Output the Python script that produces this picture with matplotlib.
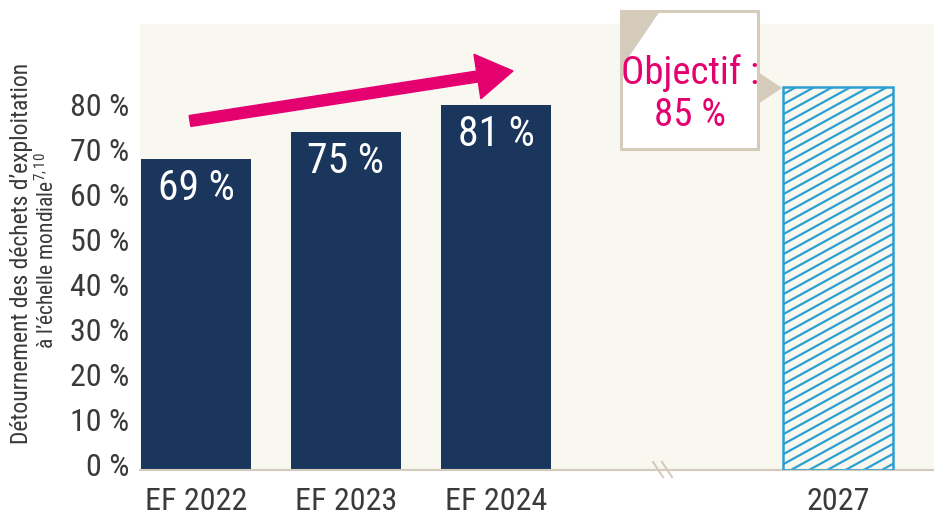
import numpy as np
import matplotlib.pyplot as plt
import matplotlib.patches as mpatches
from matplotlib.transforms import Affine2D, ScaledTranslation

plt.rcParams['font.family'] = ['Roboto Condensed', 'DejaVu Sans']
plt.rcParams['mathtext.fontset'] = 'custom'
plt.rcParams['mathtext.rm'] = 'Roboto Condensed'
plt.rcParams['mathtext.it'] = 'Roboto Condensed'

categories = ['EF 2022', 'EF 2023', 'EF 2024', '2027']
values = [69, 75, 81, 85]
labels = ['69 %', '75 %', '81 %', '']
target_text = 'Objectif :\n85 %'
yticks = [0, 10, 20, 30, 40, 50, 60, 70, 80]

navy = '#1b365d'
bg = '#f8f7f0'
hatch_blue = '#2b9fd4'
magenta = '#e4006f'
tan = '#d4cbbb'
grey = '#3a3a3a'

W, H = 934, 517
fig = plt.figure(figsize=(W / 100, H / 100), dpi=100)
# pixel coords with top-left origin
px = Affine2D().scale(1 / W, -1 / H).translate(0, 1) + fig.transFigure

left, right, top, bottom = 140, 934, 24, 470
ax = fig.add_axes([left / W, 1 - bottom / H, (right - left) / W, (bottom - top) / H])
ax.set_facecolor(bg)

xpos = [0, 1, 2, 4.28]
bw = 0.733
ax.bar(xpos[:3], values[:3], width=bw, color=navy, zorder=2)
target_bar = ax.bar(xpos[3], values[3], width=bw, facecolor='none', edgecolor=hatch_blue,
                    linewidth=1.8, zorder=3)[0]

# shallow diagonal hatching, clipped to the target bar
for c in np.arange(80, 640, 10):
    ln = plt.Line2D([700, 950], [c, c - 0.55 * 250], transform=px,
                    color=hatch_blue, lw=1.6, zorder=2.5)
    ax.add_line(ln)
    ln.set_clip_path(target_bar)

for x, v, t in zip(xpos, values, labels):
    if t:
        ax.annotate(t, (x, v), xytext=(0, -21), textcoords='offset points',
                    ha='center', va='center', color='white', fontsize=30)

ax.set_xlim(-0.373, 4.92)
ax.set_ylim(0, 99)
ax.set_xticks(xpos)
ax.set_xticklabels(categories, fontsize=23, color=grey)
ax.set_yticks(yticks)
ax.set_yticklabels([f'{t} %' for t in yticks], fontsize=23, color=grey)
ax.tick_params(length=0, pad=8)
ax.tick_params(axis='x', pad=12)
for lab in ax.get_yticklabels():
    lab.set_transform(lab.get_transform() + ScaledTranslation(0, 5 / 100, fig.dpi_scale_trans))
for s in ['top', 'right', 'left']:
    ax.spines[s].set_visible(False)
ax.spines['bottom'].set_color(tan)
ax.spines['bottom'].set_linewidth(1.5)

fig.text(22 / W, 1 - 253 / H, 'Détournement des déchets d’exploitation',
         rotation=90, ha='center', va='center', fontsize=17, color=grey)
fig.text(47 / W, 1 - 251 / H, 'à l’échelle mondiale$^{7,10}$',
         rotation=90, ha='center', va='center', fontsize=15.5, color=grey)

# axis break marks
for dx in [0, 9]:
    fig.add_artist(plt.Line2D([653 + dx, 663 + dx], [462, 477], transform=px,
                              color=tan, lw=1.5))

# growth arrow
fig.add_artist(mpatches.FancyArrow(190, 121, 323, -50, width=11, head_width=45,
                                   head_length=36, length_includes_head=True,
                                   color=magenta, transform=px))

# target callout
fig.add_artist(mpatches.Polygon([(758, 72), (782, 88), (758, 104)], closed=True,
                                facecolor=tan, edgecolor='none', transform=px))
fig.add_artist(mpatches.Rectangle((621, 11), 137, 138, facecolor='white',
                                  edgecolor=tan, lw=2.2, transform=px))
fig.add_artist(mpatches.Polygon([(621, 11), (660, 11), (622, 67)], closed=True,
                                facecolor=tan, edgecolor='none', transform=px))
fig.text(690 / W, 1 - 94 / H, target_text, ha='center', va='center',
         fontsize=28, color=magenta, linespacing=1.15)

fig.savefig('out.png', dpi=100)
